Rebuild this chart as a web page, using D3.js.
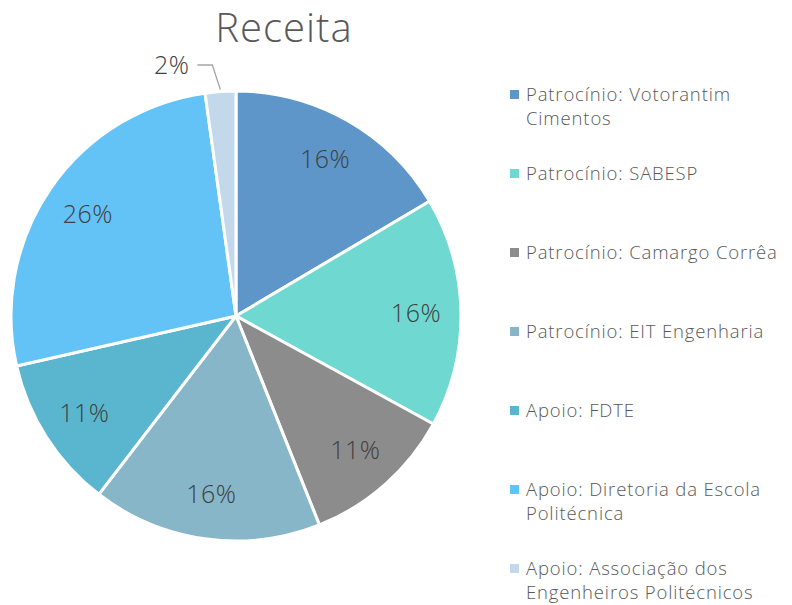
<!DOCTYPE html>
<html>
<head>
<meta charset="utf-8">
<script src="https://cdn.jsdelivr.net/npm/d3@7"></script>
<style>
  body { margin: 0; background: #fff; }
  text { font-family: "Open Sans", Lato, sans-serif; font-weight: 300; }
</style>
</head>
<body>
<div id="chart"></div>
<script>
// Chart data
const categories = [
    ["Patrocínio: Votorantim", "Cimentos"],
    ["Patrocínio: SABESP"],
    ["Patrocínio: Camargo Corrêa"],
    ["Patrocínio: EIT Engenharia"],
    ["Apoio: FDTE"],
    ["Apoio: Diretoria da Escola", "Politécnica"],
    ["Apoio: Associação dos", "Engenheiros Politécnicos"]
];
const values = [15, 15, 10, 15, 10, 24, 2];
const colors = ["#5f96c9", "#6fd9d1", "#8c8c8c", "#87b6c8", "#5ab6cf", "#63c3f6", "#c4d8ec"];

const width = 792, height = 605;
const cx = 236, cy = 316, radius = 225;

const svg = d3.select("#chart").append("svg")
    .attr("width", width)
    .attr("height", height);

// Title
svg.append("text")
    .attr("x", 284)
    .attr("y", 42)
    .attr("text-anchor", "middle")
    .style("font-size", "40px")
    .style("letter-spacing", "1px")
    .style("fill", "#595959")
    .text("Receita");

const total = d3.sum(values);
const pie = d3.pie().sort(null).value(d => d);
const arcs = pie(values);
const arc = d3.arc().innerRadius(0).outerRadius(radius);
const labelArc = d3.arc().innerRadius(radius * 0.8).outerRadius(radius * 0.8);

const g = svg.append("g").attr("transform", `translate(${cx},${cy})`);

g.selectAll("path")
    .data(arcs)
    .join("path")
    .attr("d", arc)
    .attr("fill", (d, i) => colors[i])
    .attr("stroke", "white")
    .attr("stroke-width", 3);

// Percent labels (the tiny last slice gets an outside label with a leader line)
arcs.forEach((d, i) => {
    const pct = Math.round(d.value / total * 100) + "%";
    if (i === arcs.length - 1) {
        const mid = (d.startAngle + d.endAngle) / 2;
        const edge = [Math.sin(mid) * (radius + 2), -Math.cos(mid) * (radius + 2)];
        const elbow = [edge[0] - 8, -radius - 26];
        g.append("polyline")
            .attr("points", [edge, elbow, [elbow[0] - 15, elbow[1]]].map(p => p.join(",")).join(" "))
            .attr("fill", "none")
            .attr("stroke", "#a6a6a6")
            .attr("stroke-width", 1.3);
        g.append("text")
            .attr("x", elbow[0] - 23)
            .attr("y", elbow[1] + 9)
            .attr("text-anchor", "end")
            .style("font-size", "25px")
            .style("letter-spacing", "0.5px")
            .style("fill", "#404040")
            .text(pct);
    } else {
        const [x, y] = labelArc.centroid(d);
        g.append("text")
            .attr("x", x)
            .attr("y", y)
            .attr("dy", "0.35em")
            .attr("text-anchor", "middle")
            .style("font-size", "25px")
            .style("letter-spacing", "0.5px")
            .style("fill", "#404040")
            .text(pct);
    }
});

// Legend
const legend = svg.append("g").attr("transform", "translate(510, 101)");
categories.forEach((lines, i) => {
    const item = legend.append("g").attr("transform", `translate(0, ${i * 79})`);
    item.append("rect")
        .attr("x", 0)
        .attr("y", -11)
        .attr("width", 9)
        .attr("height", 9)
        .attr("fill", colors[i]);
    lines.forEach((t, j) => {
        item.append("text")
            .attr("x", 16)
            .attr("y", j * 24)
            .style("font-size", "18.5px")
            .style("letter-spacing", "0.85px")
            .style("fill", "#595959")
            .text(t);
    });
});
</script>
</body>
</html>
